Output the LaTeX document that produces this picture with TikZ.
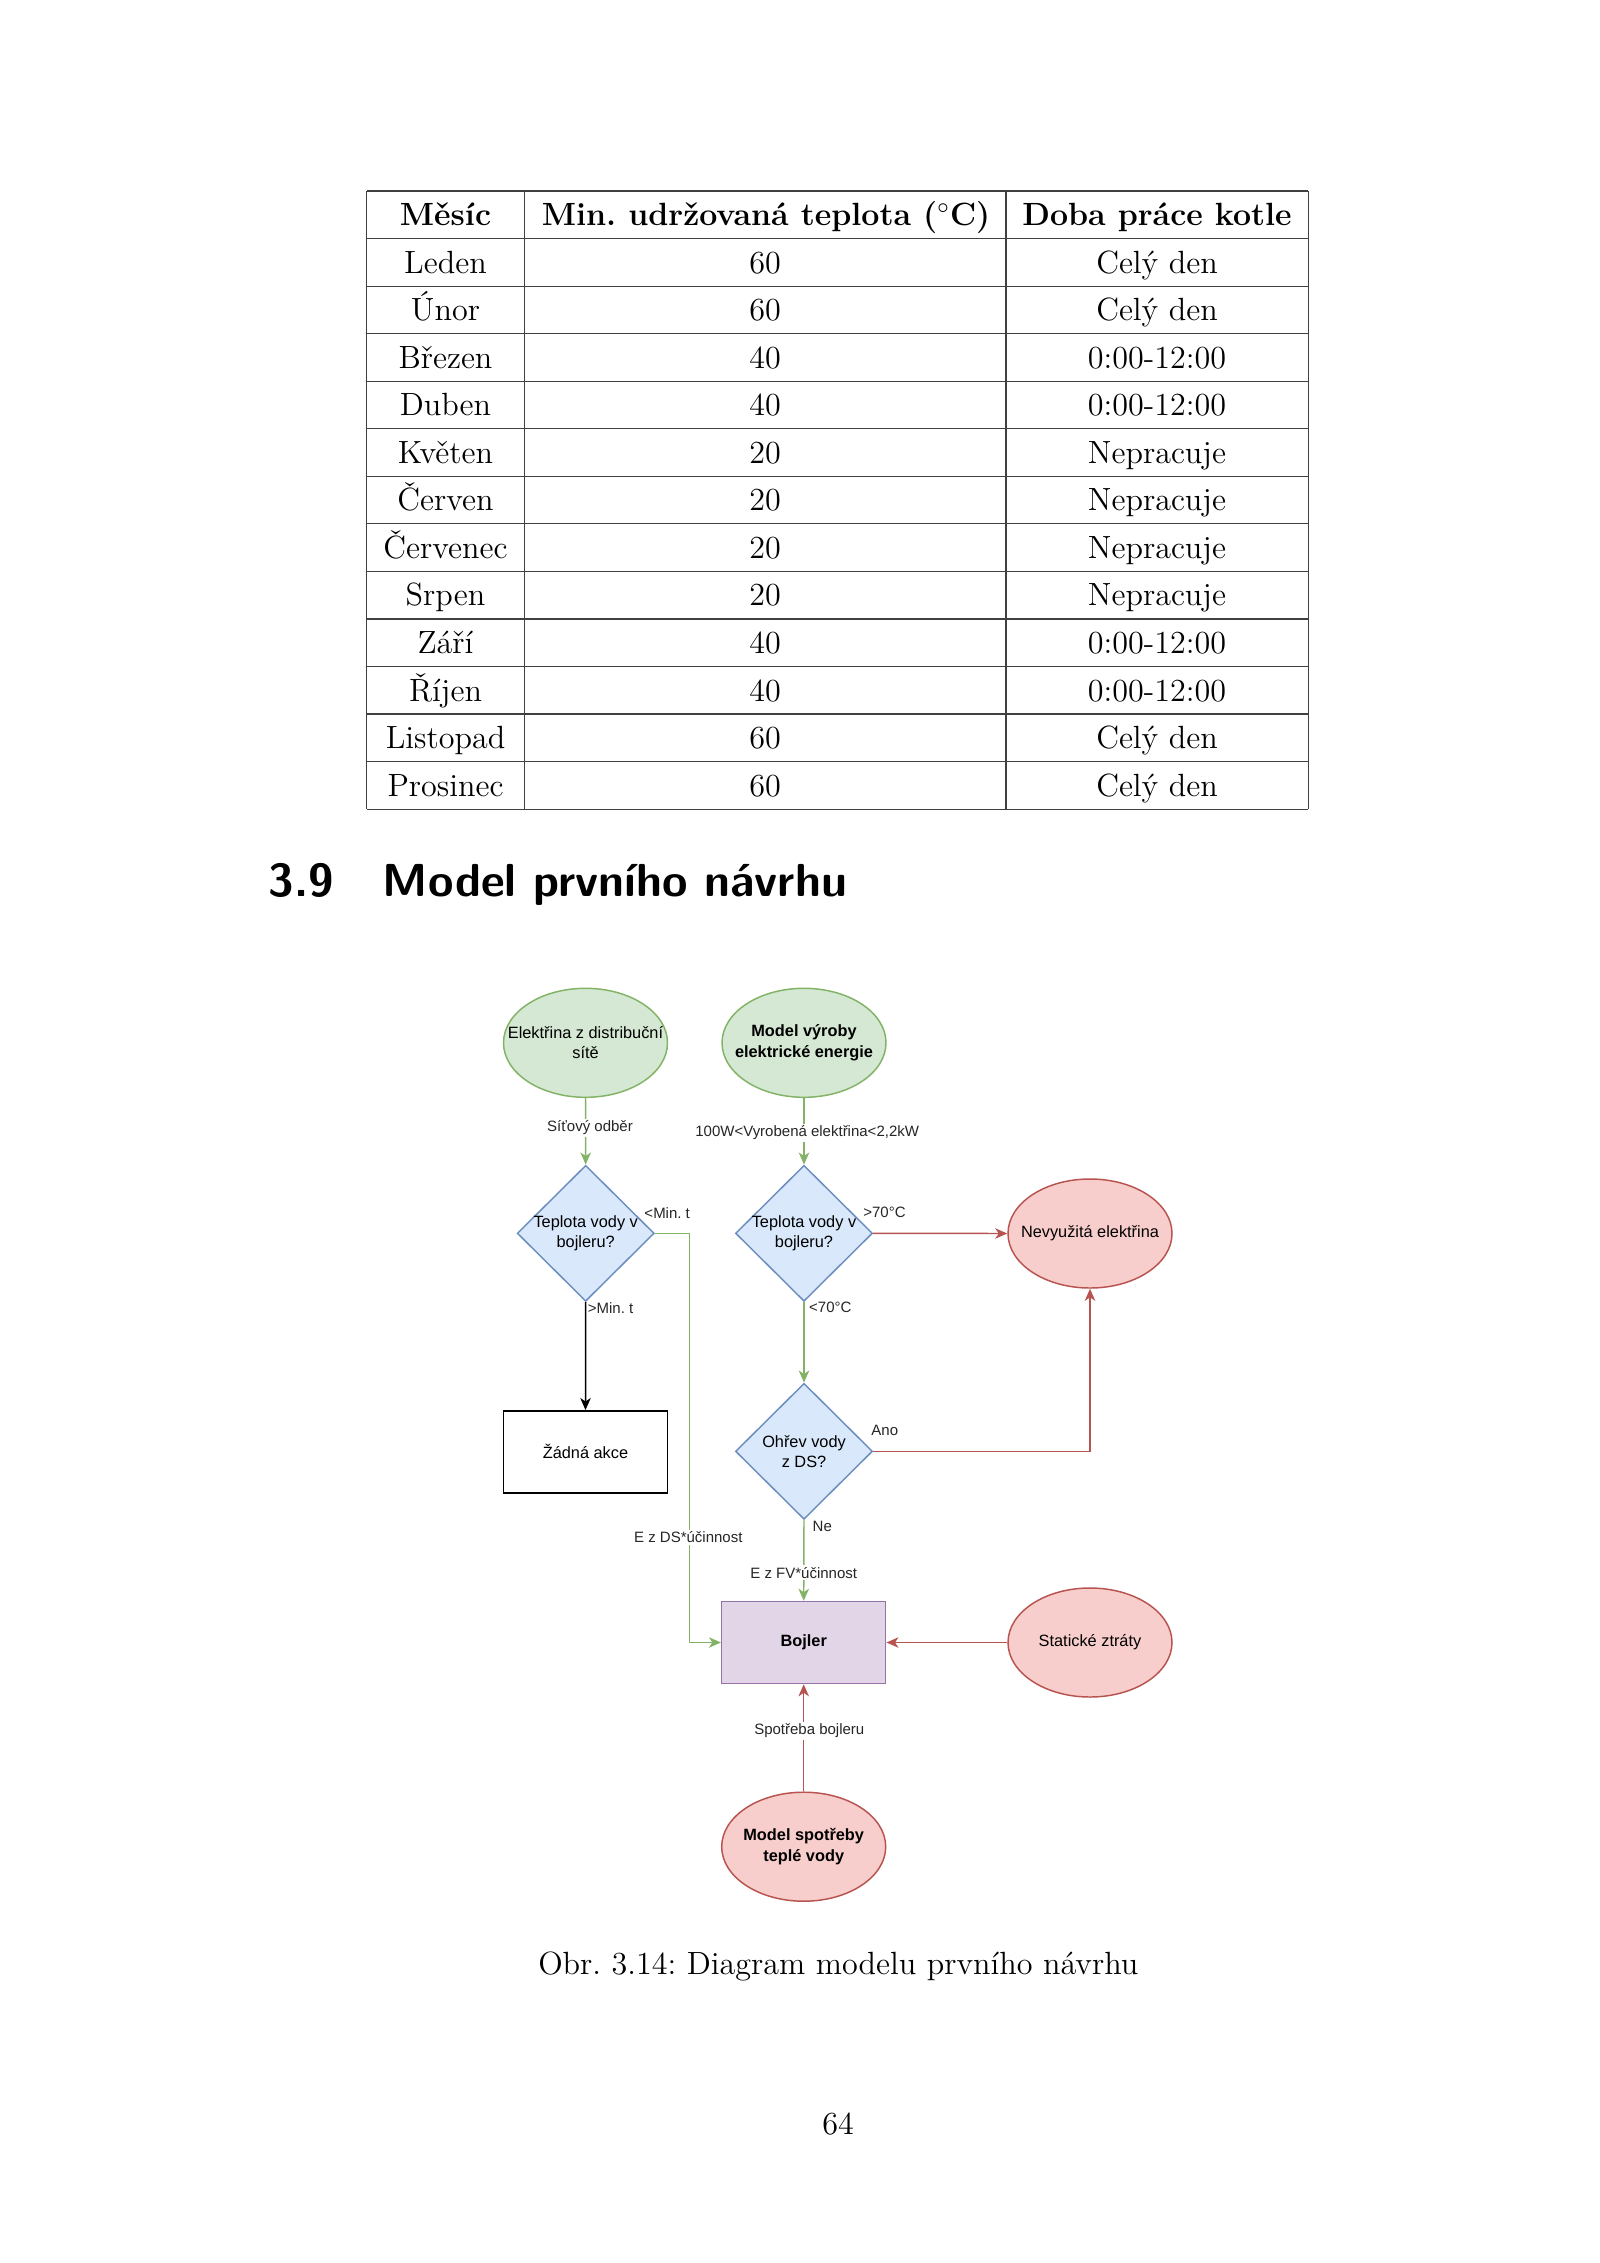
\documentclass[tikz,border=0pt]{standalone}
\usepackage{fontspec}
\newfontfamily\dio{Liberation Sans}
\usetikzlibrary{shapes.geometric,arrows.meta}
\frenchspacing
\newlength\pu
\setlength\pu{0.13125mm}
\newcommand\mytabfont{\fontsize{12}{14.5}\selectfont}
\newcommand\mydiofont{\dio\fontsize{6.1}{7.6}\selectfont}
\newcommand\mylabfont{\dio\fontsize{5.6}{6.7}\selectfont}
\definecolor{gfill}{HTML}{D5E8D4}\definecolor{gdraw}{HTML}{82B366}
\definecolor{bfill}{HTML}{DAE8FC}\definecolor{bdraw}{HTML}{6C8EBF}
\definecolor{rfill}{HTML}{F8CECC}\definecolor{rdraw}{HTML}{B85450}
\definecolor{pfill}{HTML}{E1D5E7}\definecolor{pdraw}{HTML}{9673A6}
\tikzset{
  tabrule/.style={line width=0.45pt, black!75},
  tabtxt/.style={anchor=base, inner sep=0pt, font=\mytabfont},
  tabhead/.style={anchor=base, inner sep=0pt, font=\mytabfont\bfseries},
  ellnode/.style={ellipse, minimum width=164\pu, minimum height=109\pu, inner sep=0pt, line width=0.55pt},
  dianode/.style={diamond, minimum width=137\pu, minimum height=136\pu, inner sep=0pt, line width=0.55pt, fill=bfill, draw=bdraw},
  boxnode/.style={rectangle, minimum width=164\pu, minimum height=82\pu, inner sep=0pt, line width=0.55pt},
  gcol/.style={fill=gfill, draw=gdraw},
  rcol/.style={fill=rfill, draw=rdraw},
  ntext/.style={inner sep=0pt, align=center, font=\mydiofont},
  elab/.style={inner sep=0.7pt, fill=white, font=\mylabfont, text=black!85},
  elab0/.style={inner sep=0pt, font=\mylabfont, text=black!85},
  conn/.style={line width=0.55pt, -{Stealth[length=4.5pt,width=3.9pt,inset=1.3pt]}},
  gline/.style={conn, draw=gdraw},
  rline/.style={conn, draw=rdraw},
  kline/.style={conn, draw=black},
}
\begin{document}
\begin{tikzpicture}[x=0.13125mm, y=-0.13125mm]
\useasboundingbox (0,0) rectangle (1600,2263);
\fill[white] (0,0) rectangle (1600,2263);

% ---------- table ----------
\foreach \k in {0,...,13}
  \draw[tabrule] (366.7,{191+47.55*\k}) -- (1308.3,{191+47.55*\k});
\foreach \xx in {366.7,524.3,1006,1308.3}
  \draw[tabrule] (\xx,191) -- (\xx,809.2);
\node[tabhead] (h1) at (445.5,225) {Měsíc};
\node[tabhead] (h2) at (766,225) {Min. udržovaná teplota ($^\circ$C)};
\node[tabhead] (h3) at (1157,225) {Doba práce kotle};
\foreach \m/\t/\d [count=\i] in {Leden/60/Celý den, Únor/60/Celý den, Březen/40/0:00-12:00, Duben/40/0:00-12:00, Květen/20/Nepracuje, Červen/20/Nepracuje, Červenec/20/Nepracuje, Srpen/20/Nepracuje, Září/40/0:00-12:00, Říjen/40/0:00-12:00, Listopad/60/Celý den, Prosinec/60/Celý den}{
  \node[tabtxt] (ma\i) at (445.5,{191+47.55*(\i+1)-13}) {\m};
  \node[tabtxt] (mb\i) at (765,{191+47.55*(\i+1)-13}) {\t};
  \node[tabtxt] (mc\i) at (1157,{191+47.55*(\i+1)-13}) {\d};
}

% ---------- heading ----------
\node[anchor=base west, inner sep=0pt, font=\fontsize{17.28}{22}\selectfont\sffamily\bfseries] (secnum) at (268.3,896.7) {3.9};
\node[anchor=base west, inner sep=0pt, font=\fontsize{17.28}{22}\selectfont\sffamily\bfseries] (sectitle) at (382.4,896.7) {Model prvního návrhu};

% ---------- diagram nodes ----------
\node[ellnode, gcol] (E1) at (585.5,1042.8) {};
\node[ntext] (E1t) at (E1.center) {Elektřina z distribuční\\sítě};
\node[ellnode, gcol] (E2) at (804,1042.8) {};
\node[ntext, font=\mydiofont\bfseries] (E2t) at (E2.center) {Model výroby\\elektrické energie};
\node[dianode] (D1) at (585.7,1233.3) {};
\node[ntext] (D1t) at (D1.center) {Teplota vody v\\bojleru?};
\node[dianode] (D2) at (804,1233.3) {};
\node[ntext] (D2t) at (D2.center) {Teplota vody v\\bojleru?};
\node[ellnode, rcol] (N) at (1090,1233.5) {};
\node[ntext] (Nt) at (N.center) {Nevyužitá elektřina};
\node[boxnode, fill=white, draw=black] (Z) at (585.5,1451.8) {};
\node[ntext] (Zt) at (Z.center) {Žádná akce};
\node[dianode] (D3) at (804,1451.3) {};
\node[ntext] (D3t) at (D3.center) {Ohřev vody\\z DS?};
\node[boxnode, fill=pfill, draw=pdraw] (B) at (803.7,1642.5) {};
\node[ntext, font=\mydiofont\bfseries] (Bt) at (B.center) {Bojler};
\node[ellnode, rcol] (S) at (1090,1642.5) {};
\node[ntext] (St) at (S.center) {Statické ztráty};
\node[ellnode, rcol] (M) at (803.7,1846.7) {};
\node[ntext, font=\mydiofont\bfseries] (Mt) at (M.center) {Model spotřeby\\teplé vody};

% ---------- connectors ----------
\draw[gline] (E1.south) -- (D1.north);
\draw[gline] (E2.south) -- (D2.north);
\draw[gline] (D1.east) -- ++(34.3,0) |- (B.west);
\draw[kline] (D1.south) -- (Z.north);
\draw[rline] (D2.east) -- (N.west);
\draw[gline] (D2.south) -- (D3.north);
\draw[rline] (D3.east) -| (N.south);
\draw[gline] (D3.south) -- (B.north);
\draw[rline] (S.west) -- (B.east);
\draw[rline] (M.north) -- (B.south);

% ---------- connector labels ----------
\node[elab] (l1) at (590,1128) {Síťový odběr};
\node[elab] (l2) at (807.2,1132.8) {100W<Vyrobená elektřina<2,2kW};
\node[elab0] (l3) at (667.2,1212.7) {<Min. t};
\node[elab0, anchor=west] (l4) at (587.3,1307.7) {>Min. t};
\node[elab0] (l5) at (884.5,1212.3) {>70°C};
\node[elab0] (l6) at (830.3,1307.7) {<70°C};
\node[elab0] (l7) at (884.8,1430.7) {Ano};
\node[elab0] (l8) at (822.3,1526) {Ne};
\node[elab] (l9) at (688.3,1537.3) {E z DS*účinnost};
\node[elab] (l10) at (803.7,1572.7) {E z FV*účinnost};
\node[elab] (l11) at (809.3,1731) {Spotřeba bojleru};

% ---------- caption and page number ----------
\node[anchor=base, inner sep=0pt, font=\mytabfont] (cap) at (838.3,1974.7) {Obr. 3.14: Diagram modelu prvního návrhu};
\node[anchor=base, inner sep=0pt, font=\mytabfont] (pageno) at (838,2134) {64};
\end{tikzpicture}
\end{document}
